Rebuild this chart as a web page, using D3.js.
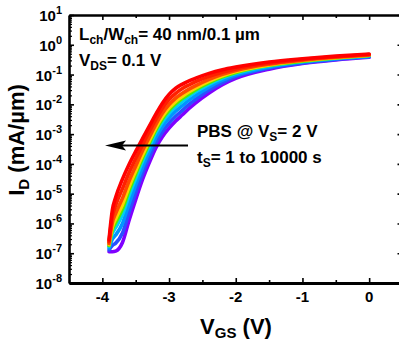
<!DOCTYPE html>
<html><head><meta charset="utf-8">
<script src="https://cdn.jsdelivr.net/npm/d3@7"></script>
<style>
body{margin:0;background:#fff}
svg{display:block}
text{font-family:"Liberation Sans",Arial,sans-serif;font-weight:bold;fill:#000}
</style>
</head><body>
<svg id="c" width="399" height="343"></svg>
<script>
// ---- data ----
const vgs = [-3.9,-3.85,-3.8,-3.7,-3.6,-3.5,-3.4,-3.3,-3.2,-3.1,-3.0,-2.9,-2.8,-2.7,-2.6,-2.4,-2.2,-2.0,-1.5,-1.0,-0.5,0];
const logId_red    = [-6.55,-5.55,-5.12,-4.52,-4.02,-3.58,-3.16,-2.75,-2.34,-1.96,-1.67,-1.46,-1.32,-1.21,-1.12,-0.96,-0.84,-0.75,-0.58,-0.47,-0.38,-0.31];
const logId_red2   = [-6.61,-5.76,-5.39,-4.84,-4.30,-3.82,-3.37,-2.93,-2.51,-2.13,-1.84,-1.63,-1.47,-1.35,-1.24,-1.06,-0.92,-0.81,-0.62,-0.49,-0.40,-0.33];
const logId_orange = [-6.67,-5.97,-5.66,-5.16,-4.58,-4.07,-3.57,-3.12,-2.68,-2.30,-2.01,-1.79,-1.63,-1.49,-1.37,-1.16,-0.99,-0.86,-0.65,-0.52,-0.42,-0.34];
const logId_yellow = [-6.71,-6.11,-5.84,-5.37,-4.77,-4.23,-3.71,-3.24,-2.79,-2.41,-2.12,-1.90,-1.73,-1.58,-1.45,-1.22,-1.04,-0.90,-0.68,-0.53,-0.43,-0.35];
const logId_green  = [-6.74,-6.21,-5.97,-5.52,-4.90,-4.34,-3.81,-3.33,-2.87,-2.49,-2.20,-1.98,-1.80,-1.65,-1.51,-1.27,-1.08,-0.93,-0.69,-0.55,-0.44,-0.36];
const logId_cyan   = [-6.77,-6.33,-6.13,-5.71,-5.07,-4.49,-3.93,-3.44,-2.97,-2.59,-2.30,-2.08,-1.90,-1.73,-1.58,-1.33,-1.12,-0.96,-0.71,-0.56,-0.45,-0.37];
const logId_lblue  = [-6.83,-6.53,-6.39,-6.01,-5.34,-4.71,-4.13,-3.61,-3.13,-2.75,-2.46,-2.23,-2.04,-1.86,-1.70,-1.42,-1.19,-1.02,-0.75,-0.58,-0.47,-0.39];
const logId_blue   = [-6.89,-6.74,-6.66,-6.33,-5.62,-4.96,-4.33,-3.80,-3.30,-2.92,-2.63,-2.40,-2.20,-2.00,-1.83,-1.52,-1.27,-1.07,-0.78,-0.61,-0.49,-0.40];
const logId_purple = [-6.95,-6.95,-6.93,-6.65,-5.90,-5.20,-4.54,-3.98,-3.47,-3.09,-2.80,-2.56,-2.35,-2.14,-1.95,-1.62,-1.34,-1.13,-0.82,-0.63,-0.51,-0.42];
const seriesList = [logId_purple, logId_blue, logId_lblue, logId_cyan, logId_green, logId_yellow, logId_orange, logId_red2, logId_red];
const seriesColors = ["#8000ff","#2a50ff","#0095ff","#00d0f0","#50ee00","#ffd000","#ff4a00","#ff2000","#ff0000"];
const xTickVals = [-4,-3,-2,-1,0];
const xMinorVals = [-3.5,-2.5,-1.5,-0.5];
const yExps = [-8,-7,-6,-5,-4,-3,-2,-1,0,1];

// ---- layout ----
const svg = d3.select("#c");
const x = d3.scaleLinear().domain([-4.5,0.5]).range([69,402.5]);
const y = d3.scaleLog().domain([1e-8,10]).range([283,15]);

const yMinor = [];
yExps.slice(0,-1).forEach(e=>{for(let k=2;k<10;k++) yMinor.push(k*Math.pow(10,e));});
const yMajor = yExps.map(e=>Math.pow(10,e));

// curves
const line = d3.line().x(d=>x(d[0])).y(d=>y(Math.pow(10,d[1]))).curve(d3.curveMonotoneX);
const gc = svg.append("g");
seriesList.forEach((s,i)=>{
  gc.append("path").attr("d", line(vgs.map((v,j)=>[v,s[j]])))
    .attr("fill","none").attr("stroke",seriesColors[i]).attr("stroke-width",3.6)
    .attr("stroke-linecap","round").attr("stroke-linejoin","round");
});

// axes
function styleAxis(g,w){
  g.select(".domain").attr("stroke","#000").attr("stroke-width",w);
  g.selectAll(".tick line").attr("stroke","#000").attr("stroke-width",1.6);
  g.selectAll(".tick text").remove();
}
const gb = svg.append("g").attr("transform","translate(0,283)")
  .call(d3.axisBottom(x).tickValues(xTickVals).tickSizeInner(-5).tickSizeOuter(0).tickFormat(""));
styleAxis(gb,3);
const gbm = svg.append("g").attr("transform","translate(0,283)")
  .call(d3.axisBottom(x).tickValues(xMinorVals).tickSizeInner(-3).tickSizeOuter(0).tickFormat(""));
gbm.select(".domain").remove(); styleAxis(gbm,0);
const gt = svg.append("g").attr("transform","translate(0,15)")
  .call(d3.axisTop(x).tickValues(xTickVals).tickSizeInner(-5).tickSizeOuter(0).tickFormat(""));
styleAxis(gt,2.5);
const gtm = svg.append("g").attr("transform","translate(0,15)")
  .call(d3.axisTop(x).tickValues(xMinorVals).tickSizeInner(-3).tickSizeOuter(0).tickFormat(""));
gtm.select(".domain").remove(); styleAxis(gtm,0);

const gl = svg.append("g").attr("transform","translate(69,0)")
  .call(d3.axisLeft(y).tickValues(yMajor).tickSizeInner(-5).tickSizeOuter(0).tickFormat(""));
styleAxis(gl,2.6);
const glm = svg.append("g").attr("transform","translate(69,0)")
  .call(d3.axisLeft(y).tickValues(yMinor).tickSizeInner(-3).tickSizeOuter(0).tickFormat(""));
glm.select(".domain").remove(); styleAxis(glm,0);
glm.selectAll(".tick line").attr("stroke-width",1.2);
const gr = svg.append("g").attr("transform","translate(402.5,0)")
  .call(d3.axisRight(y).tickValues(yMajor).tickSizeInner(-5).tickSizeOuter(0).tickFormat(""));
styleAxis(gr,2.6);

// tick labels
svg.append("g").selectAll("text").data(xTickVals).join("text")
  .attr("x",d=>x(d)).attr("y",302).attr("text-anchor","middle").attr("font-size",15)
  .text(d=>String(d));
const yl = svg.append("g").selectAll("text").data(yExps).join("text")
  .attr("x",62).attr("y",d=>y(Math.pow(10,d))+6).attr("text-anchor","end").attr("font-size",15);
yl.append("tspan").text("10");
yl.append("tspan").attr("font-size",11).attr("dy",-7).text(d=>String(d));

// axis titles
const xt = svg.append("text").attr("x",236).attr("y",334).attr("text-anchor","middle").attr("font-size",22);
xt.append("tspan").text("V");
xt.append("tspan").attr("font-size",15).attr("dy",4).text("GS");
xt.append("tspan").attr("dy",-4).text(" (V)");
const yt = svg.append("text").attr("transform","translate(24,140) rotate(-90)").attr("text-anchor","middle").attr("font-size",22);
yt.append("tspan").text("I");
yt.append("tspan").attr("font-size",15).attr("dy",5).text("D");
yt.append("tspan").attr("dy",-5).text(" (mA/\u00b5m)");

// annotations
function sub(x0, y0, parts){
  const el = svg.append("text").attr("x",x0).attr("y",y0).attr("font-size",17);
  parts.forEach(p=>{
    const ts = el.append("tspan").text(p[0]);
    if(p[1]==="s") ts.attr("font-size",12).attr("dy",4);
    if(p[1]==="b") ts.attr("dy",-4);
  });
  return el;
}
sub(79,40,[["L"],["ch","s"],["/W","b"],["ch","s"],["= 40 nm/0.1 \u00b5m","b"]]);
sub(79,66,[["V"],["DS","s"],["= 0.1 V","b"]]);
sub(197,137,[["PBS @ V"],["S","s"],["= 2 V","b"]]);
sub(197,163,[["t"],["S","s"],["= 1 to 10000 s","b"]]);

// arrow
svg.append("line").attr("x1",188).attr("y1",145.5).attr("x2",120).attr("y2",145.5)
  .attr("stroke","#000").attr("stroke-width",2);
svg.append("path").attr("d",d3.line()([[105,145.5],[126,140.5],[122,145.5],[126,150.5]])+"Z").attr("fill","#000");
</script>
</body></html>
